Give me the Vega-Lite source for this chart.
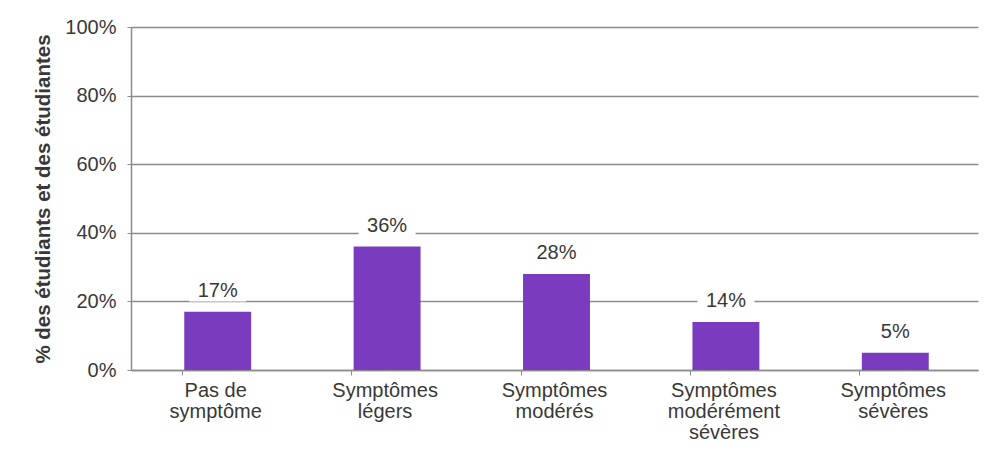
{
  "$schema": "https://vega.github.io/schema/vega-lite/v6.json",
  "width": 847,
  "height": 343,
  "autosize": {"type": "none"},
  "padding": {"left": 131, "top": 27, "right": 13, "bottom": 85},
  "background": "white",
  "config": {
    "font": "Liberation Sans",
    "view": {"stroke": null}
  },
  "data": {
    "values": [
      {"categorie": "Pas de|symptôme", "part": 0.17},
      {"categorie": "Symptômes|légers", "part": 0.36},
      {"categorie": "Symptômes|modérés", "part": 0.28},
      {"categorie": "Symptômes|modérément|sévères", "part": 0.14},
      {"categorie": "Symptômes|sévères", "part": 0.05}
    ]
  },
  "encoding": {
    "x": {
      "field": "categorie",
      "type": "nominal",
      "sort": null,
      "scale": {"paddingInner": 0.605, "paddingOuter": 0.3025},
      "axis": {
        "title": null,
        "labelAngle": 0,
        "labelExpr": "split(datum.label, '|')",
        "labelFontSize": 20,
        "labelLineHeight": 21,
        "labelColor": "#383838",
        "labelPadding": 5,
        "tickSize": 5,
        "tickColor": "#8c8c8c",
        "domainColor": "#8c8c8c",
        "domainWidth": 1.5,
        "bandPosition": 0,
        "labelBaseline": "top"
      }
    },
    "y": {
      "field": "part",
      "type": "quantitative",
      "scale": {"domain": [0, 1], "nice": false},
      "axis": {
        "title": "% des étudiants et des étudiantes",
        "titleFontSize": 20.5,
        "titleFontWeight": "bold",
        "titleColor": "#383838",
        "titlePadding": 11,
        "format": "%",
        "values": [0, 0.2, 0.4, 0.6, 0.8, 1],
        "labelFontSize": 20,
        "labelColor": "#383838",
        "labelPadding": 11,
        "tickSize": 4,
        "tickColor": "#8c8c8c",
        "domainColor": "#8c8c8c",
        "domainWidth": 1.5,
        "grid": true,
        "gridColor": "#8c8c8c",
        "gridWidth": 1.3
      }
    }
  },
  "layer": [
    {"mark": {"type": "bar", "color": "#7a3cbe", "xOffset": 2}},
    {
      "mark": {
        "type": "point",
        "shape": "M-1,-0.38H1V0.38H-1Z",
        "filled": true,
        "color": "white",
        "opacity": 1,
        "size": 3250,
        "yOffset": -21,
        "xOffset": 2
      }
    },
    {
      "mark": {
        "type": "text",
        "baseline": "middle",
        "dy": -21,
        "dx": 2,
        "fontSize": 20,
        "color": "#383838"
      },
      "encoding": {"text": {"field": "part", "type": "quantitative", "format": ".0%"}}
    }
  ]
}
